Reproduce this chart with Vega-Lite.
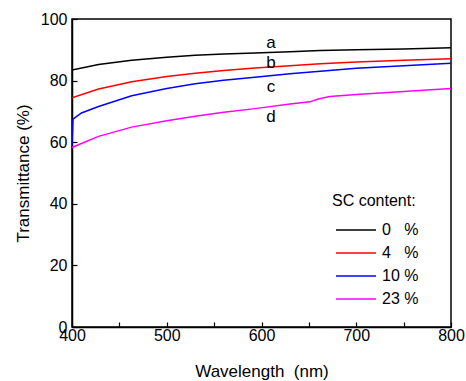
{
  "$schema": "https://vega.github.io/schema/vega-lite/v6.json",
  "autosize": "none",
  "width": 379,
  "height": 308,
  "padding": {"left": 72, "top": 19, "right": 15, "bottom": 54},
  "background": "white",
  "config": {
    "font": "Liberation Sans",
    "view": {"stroke": "black", "strokeWidth": 1.5},
    "axis": {
      "grid": false,
      "domainColor": "black",
      "domainWidth": 1.5,
      "tickColor": "black",
      "tickWidth": 1.2,
      "tickSize": -5,
      "labelColor": "black",
      "labelFontSize": 16,
      "labelFlush": false,
      "titleColor": "black",
      "titleFontSize": 17,
      "titleFontWeight": "normal"
    }
  },
  "datasets": {
    "spectra": [
      {"wavelength": 400, "T": 83.4, "content": "0\u00a0\u00a0\u00a0%"},
      {"wavelength": 428, "T": 85.2, "content": "0\u00a0\u00a0\u00a0%"},
      {"wavelength": 463, "T": 86.6, "content": "0\u00a0\u00a0\u00a0%"},
      {"wavelength": 500, "T": 87.6, "content": "0\u00a0\u00a0\u00a0%"},
      {"wavelength": 530, "T": 88.2, "content": "0\u00a0\u00a0\u00a0%"},
      {"wavelength": 560, "T": 88.6, "content": "0\u00a0\u00a0\u00a0%"},
      {"wavelength": 593, "T": 89.0, "content": "0\u00a0\u00a0\u00a0%"},
      {"wavelength": 630, "T": 89.4, "content": "0\u00a0\u00a0\u00a0%"},
      {"wavelength": 662, "T": 89.8, "content": "0\u00a0\u00a0\u00a0%"},
      {"wavelength": 700, "T": 90.0, "content": "0\u00a0\u00a0\u00a0%"},
      {"wavelength": 750, "T": 90.3, "content": "0\u00a0\u00a0\u00a0%"},
      {"wavelength": 800, "T": 90.7, "content": "0\u00a0\u00a0\u00a0%"},
      {"wavelength": 400, "T": 74.4, "content": "4\u00a0\u00a0\u00a0%"},
      {"wavelength": 428, "T": 77.3, "content": "4\u00a0\u00a0\u00a0%"},
      {"wavelength": 463, "T": 79.6, "content": "4\u00a0\u00a0\u00a0%"},
      {"wavelength": 500, "T": 81.3, "content": "4\u00a0\u00a0\u00a0%"},
      {"wavelength": 530, "T": 82.4, "content": "4\u00a0\u00a0\u00a0%"},
      {"wavelength": 560, "T": 83.3, "content": "4\u00a0\u00a0\u00a0%"},
      {"wavelength": 593, "T": 84.1, "content": "4\u00a0\u00a0\u00a0%"},
      {"wavelength": 630, "T": 84.8, "content": "4\u00a0\u00a0\u00a0%"},
      {"wavelength": 662, "T": 85.5, "content": "4\u00a0\u00a0\u00a0%"},
      {"wavelength": 700, "T": 86.0, "content": "4\u00a0\u00a0\u00a0%"},
      {"wavelength": 750, "T": 86.6, "content": "4\u00a0\u00a0\u00a0%"},
      {"wavelength": 800, "T": 87.1, "content": "4\u00a0\u00a0\u00a0%"},
      {"wavelength": 400, "T": 59.0, "content": "10 %"},
      {"wavelength": 401, "T": 67.5, "content": "10 %"},
      {"wavelength": 410, "T": 69.5, "content": "10 %"},
      {"wavelength": 428, "T": 71.6, "content": "10 %"},
      {"wavelength": 463, "T": 75.1, "content": "10 %"},
      {"wavelength": 500, "T": 77.4, "content": "10 %"},
      {"wavelength": 530, "T": 79.0, "content": "10 %"},
      {"wavelength": 560, "T": 80.1, "content": "10 %"},
      {"wavelength": 593, "T": 81.1, "content": "10 %"},
      {"wavelength": 630, "T": 82.2, "content": "10 %"},
      {"wavelength": 662, "T": 83.0, "content": "10 %"},
      {"wavelength": 700, "T": 84.0, "content": "10 %"},
      {"wavelength": 750, "T": 84.8, "content": "10 %"},
      {"wavelength": 800, "T": 85.6, "content": "10 %"},
      {"wavelength": 400, "T": 58.3, "content": "23 %"},
      {"wavelength": 428, "T": 61.9, "content": "23 %"},
      {"wavelength": 463, "T": 64.9, "content": "23 %"},
      {"wavelength": 500, "T": 67.0, "content": "23 %"},
      {"wavelength": 530, "T": 68.4, "content": "23 %"},
      {"wavelength": 560, "T": 69.7, "content": "23 %"},
      {"wavelength": 593, "T": 70.9, "content": "23 %"},
      {"wavelength": 630, "T": 72.4, "content": "23 %"},
      {"wavelength": 651, "T": 73.1, "content": "23 %"},
      {"wavelength": 660, "T": 74.0, "content": "23 %"},
      {"wavelength": 672, "T": 74.8, "content": "23 %"},
      {"wavelength": 700, "T": 75.5, "content": "23 %"},
      {"wavelength": 750, "T": 76.5, "content": "23 %"},
      {"wavelength": 800, "T": 77.4, "content": "23 %"}
    ],
    "tags": [
      {"wavelength": 610, "T": 92.3, "tag": "a"},
      {"wavelength": 610, "T": 85.8, "tag": "b"},
      {"wavelength": 610, "T": 77.9, "tag": "c"},
      {"wavelength": 610, "T": 68.2, "tag": "d"}
    ]
  },
  "layer": [
    {
      "data": {"name": "spectra"},
      "mark": {"type": "line", "strokeWidth": 1.5, "clip": true},
      "encoding": {
        "x": {
          "field": "wavelength",
          "type": "quantitative",
          "scale": {"domain": [400, 800], "nice": false, "zero": false},
          "axis": {
            "values": [400, 450, 500, 550, 600, 650, 700, 750, 800],
            "labelExpr": "datum.value % 100 == 0 ? datum.label : ''",
            "labelPadding": 5,
            "title": "Wavelength\u00a0 (nm)",
            "titlePadding": 20
          }
        },
        "y": {
          "field": "T",
          "type": "quantitative",
          "scale": {"domain": [0, 100], "nice": false},
          "axis": {
            "values": [0, 10, 20, 30, 40, 50, 60, 70, 80, 90, 100],
            "labelExpr": "datum.value % 20 == 0 ? datum.label : ''",
            "labelPadding": 10,
            "title": "Transmittance (%)",
            "titlePadding": 8
          }
        },
        "color": {
          "field": "content",
          "type": "nominal",
          "scale": {
            "domain": ["0\u00a0\u00a0\u00a0%", "4\u00a0\u00a0\u00a0%", "10 %", "23 %"],
            "range": ["#000000", "#ff0000", "#0000ff", "#ff00ff"]
          },
          "legend": {
            "title": "SC content:",
            "orient": "none",
            "legendX": 260,
            "legendY": 174,
            "padding": 0,
            "titleFontSize": 16,
            "titleFontWeight": "normal",
            "titleColor": "black",
            "titlePadding": 10,
            "labelFontSize": 16,
            "labelColor": "black",
            "labelOffset": 15,
            "symbolType": "M-2,0H2",
            "symbolSize": 400,
            "symbolOffset": 13,
            "symbolStrokeWidth": 1.5,
            "rowPadding": 4
          }
        }
      }
    },
    {
      "data": {"name": "tags"},
      "mark": {"type": "text", "fontSize": 17, "color": "black", "align": "center", "baseline": "middle"},
      "encoding": {
        "x": {"field": "wavelength", "type": "quantitative"},
        "y": {"field": "T", "type": "quantitative"},
        "text": {"field": "tag"}
      }
    }
  ]
}
